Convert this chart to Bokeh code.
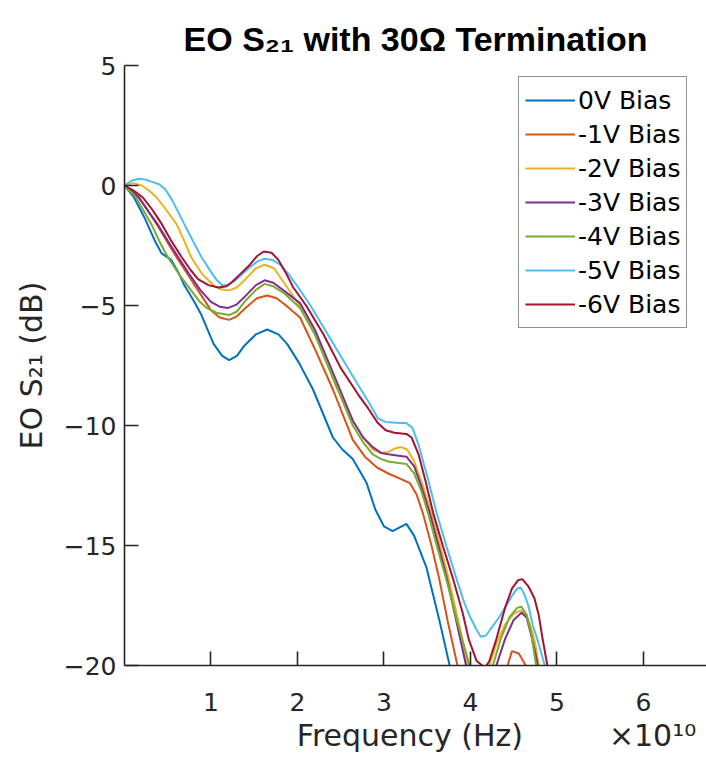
from bokeh.plotting import figure
from bokeh.models import Range1d, FixedTicker
from bokeh.embed import file_html
from bokeh.resources import INLINE

# Frequencies in GHz, EO S21 in dB, one pair of arrays per bias voltage
freq_0v = [0, 1.1, 2.3, 3.5, 4.3, 5.4, 6.2, 6.9, 8.0, 8.9, 10.3, 11.3, 12.1, 13.0, 13.8, 15.2, 16.5, 17.8,
           18.8, 20.2, 21.8, 24.1, 25.2, 26.4, 27.2, 28.0, 29.0, 30.0, 31.0, 32.6, 33.5, 34.9, 36.4, 37.6,
           39.0, 41.0]
s21_0v = [0, -0.5, -1.33, -2.3, -2.83, -3.1, -3.6, -4.15, -4.8, -5.4, -6.6, -7.1, -7.28, -7.1, -6.7, -6.2, -6.0, -6.2,
          -6.6, -7.4, -8.5, -10.5, -11.0, -11.4, -11.9, -12.4, -13.5, -14.2, -14.4, -14.1, -14.6, -15.9, -18.1, -20.0,
          -22.0, -23.5]

freq_1v = [0, 1.7, 3.7, 6.0, 7.3, 8.5, 10.0, 11.0, 12.1, 13.0, 14.0, 15.3, 16.5, 17.6, 18.5, 20.3, 22.0, 24.1,
           26.4, 27.8, 29.2, 30.5, 31.8, 33.0, 33.8, 34.5, 35.5, 36.4, 37.4, 38.5, 40.0, 42.0, 44.3, 44.8, 45.6,
           46.4, 47.5]
s21_1v = [0, -0.49, -1.6, -2.98, -3.7, -4.37, -5.2, -5.5, -5.6, -5.45, -5.1, -4.7, -4.58, -4.7, -4.95, -5.5, -6.8, -8.5,
          -10.6, -11.3, -11.75, -12.0, -12.2, -12.4, -12.9, -13.65, -15.0, -16.4, -18.2, -20.0, -21.5, -21.5, -20.0, -19.4, -19.5,
          -20.0, -21.5]

freq_2v = [0, 1.0, 2.0, 2.8, 3.7, 4.8, 6.0, 6.9, 7.7, 9.0, 10.4, 11.2, 12.1, 13.0, 14.0, 15.2, 16.2, 17.3,
           18.8, 21.0, 22.5, 24.5, 26.4, 27.6, 28.7, 29.7, 30.5, 31.3, 32.0, 32.7, 33.5, 34.5, 35.5, 36.5, 37.5,
           38.7, 39.7, 41.0, 42.2, 43.0, 44.0, 45.0, 45.8, 46.5, 47.0, 47.5, 47.9, 49.0]
s21_2v = [0, 0.1, 0.0, -0.2, -0.49, -1.0, -1.6, -2.3, -2.98, -3.7, -4.2, -4.33, -4.37, -4.25, -3.9, -3.45, -3.3, -3.45,
          -4.24, -5.4, -6.6, -8.4, -9.8, -10.5, -11.0, -11.15, -11.1, -10.95, -10.9, -11.0, -11.5, -12.5, -13.65, -15.0, -16.4,
          -18.3, -20.0, -21.2, -20.0, -19.1, -18.3, -17.85, -17.7, -17.9, -18.4, -19.1, -20.0, -21.5]

freq_3v = [0, 1.6, 3.8, 5.0, 6.2, 7.5, 8.8, 10.0, 11.0, 12.0, 13.0, 14.0, 15.2, 16.2, 17.2, 18.5, 20.3, 22.0,
           24.1, 26.4, 27.6, 28.7, 29.7, 30.5, 31.5, 32.6, 33.5, 34.3, 35.3, 36.3, 37.3, 38.4, 39.5, 41.0, 43.0,
           44.0, 45.0, 45.9, 46.5, 47.0, 47.4, 47.8, 48.8]
s21_3v = [0, -0.49, -1.6, -2.3, -2.98, -3.7, -4.37, -4.85, -5.05, -5.1, -4.95, -4.6, -4.15, -3.95, -4.05, -4.4, -4.9, -6.0,
          -7.8, -9.8, -10.5, -10.9, -11.15, -11.2, -11.25, -11.3, -11.7, -12.5, -13.65, -15.0, -16.4, -18.2, -20.0, -21.3, -20.0,
          -18.9, -18.1, -17.8, -18.0, -18.7, -19.3, -20.0, -21.5]

freq_4v = [0, 1.3, 3.1, 4.0, 5.0, 6.3, 7.7, 8.6, 9.5, 10.6, 12.1, 13.0, 14.0, 15.2, 16.2, 17.2, 18.5, 20.3,
           22.0, 24.1, 26.4, 27.6, 28.7, 29.7, 30.5, 31.5, 32.6, 33.5, 34.3, 35.1, 36.1, 37.2, 38.5, 39.9, 41.5,
           42.6, 43.5, 44.5, 45.4, 45.9, 46.5, 47.0, 47.6, 48.5]
s21_4v = [0, -0.49, -1.6, -2.3, -2.98, -3.7, -4.37, -4.8, -5.1, -5.3, -5.4, -5.25, -4.8, -4.35, -4.1, -4.2, -4.5, -5.1,
          -6.2, -8.0, -10.0, -10.7, -11.2, -11.4, -11.5, -11.55, -11.6, -12.0, -12.7, -13.65, -15.0, -16.4, -18.2, -20.0, -21.0,
          -20.0, -18.9, -18.0, -17.6, -17.55, -17.9, -18.6, -20.0, -21.5]

freq_5v = [0, 0.8, 1.6, 2.4, 3.2, 4.0, 4.7, 5.5, 6.2, 6.9, 7.9, 8.9, 10.0, 10.7, 11.3, 12.0, 13.0, 14.5,
           15.4, 16.2, 17.1, 18.0, 19.0, 20.0, 21.5, 23.0, 25.0, 27.0, 28.2, 29.3, 30.2, 31.8, 32.6, 33.3, 34.0,
           35.0, 36.1, 37.2, 38.4, 39.3, 40.0, 40.7, 41.2, 41.8, 42.5, 43.3, 44.0, 44.8, 45.4, 45.8, 46.2, 46.7,
           47.2, 47.9, 48.6, 49.5]
s21_5v = [0, 0.2, 0.28, 0.25, 0.15, 0.05, -0.15, -0.6, -1.1, -1.6, -2.3, -2.98, -3.6, -3.95, -4.16, -4.15, -3.9, -3.4,
          -3.15, -3.05, -3.1, -3.3, -3.7, -4.2, -5.0, -5.9, -7.1, -8.3, -9.0, -9.7, -9.85, -9.9, -9.9, -10.1, -10.8,
          -12.1, -13.65, -15.0, -16.4, -17.4, -18.0, -18.5, -18.8, -18.75, -18.4, -18.0, -17.6, -17.1, -16.8, -16.75, -17.0, -17.5,
          -18.3, -19.1, -20.0, -21.5]

freq_6v = [0, 1.0, 2.1, 3.2, 4.3, 5.4, 6.6, 7.6, 8.5, 9.7, 10.9, 11.8, 12.5, 13.5, 14.5, 15.3, 16.1, 17.0,
           17.8, 18.6, 19.5, 21.0, 23.0, 25.0, 27.0, 28.2, 29.3, 30.2, 31.2, 32.6, 33.2, 34.0, 34.8, 35.7, 36.8,
           38.0, 39.1, 39.8, 40.7, 41.7, 42.2, 43.0, 44.0, 44.8, 45.5, 46.0, 46.7, 47.4, 47.9, 48.4, 48.9, 49.5]
s21_6v = [0, -0.2, -0.49, -1.0, -1.6, -2.3, -2.98, -3.5, -3.9, -4.15, -4.25, -4.2, -4.0, -3.65, -3.3, -2.95, -2.75, -2.8,
          -3.1, -3.6, -4.24, -5.0, -6.2, -7.6, -8.7, -9.3, -9.9, -10.2, -10.3, -10.35, -10.5, -11.2, -12.3, -13.65, -15.0,
          -16.4, -17.8, -18.9, -19.8, -20.1, -19.8, -18.9, -17.6, -16.8, -16.45, -16.4, -16.7, -17.2, -17.9, -19.0, -20.0, -21.5]

series_names = ["0V Bias", "-1V Bias", "-2V Bias", "-3V Bias", "-4V Bias", "-5V Bias", "-6V Bias"]
series_colors = ["#0072BD", "#D95319", "#EDB120", "#7E2F8E", "#77AC30", "#4DBEEE", "#A2142F"]
series_freq = [freq_0v, freq_1v, freq_2v, freq_3v, freq_4v, freq_5v, freq_6v]
series_s21 = [s21_0v, s21_1v, s21_2v, s21_3v, s21_4v, s21_5v, s21_6v]

x_ticks = [1e10, 2e10, 3e10, 4e10, 5e10, 6e10]
x_tick_labels = ["1", "2", "3", "4", "5", "6"]
y_ticks = [-20, -15, -10, -5, 0, 5]

title_text = "EO S\u2082\u2081 with 30\u03a9 Termination"
y_label = "EO S\u2082\u2081 (dB)"
x_label = "Frequency (Hz)"
x_exponent = "\u00d710\u00b9\u2070"

FONT = "DejaVu Sans"
INK = "#262626"
NBSP = "\u00a0"

p = figure(width=706, height=766, output_backend="svg", toolbar_location=None,
           x_range=Range1d(0, 6.73e10), y_range=Range1d(-20, 5),
           min_border_left=124, min_border_right=0, min_border_top=65, min_border_bottom=101)
p.outline_line_color = None
p.grid.visible = False
p.background_fill_color = "white"
p.border_fill_color = "white"

for name, col, f, s in zip(series_names, series_colors, series_freq, series_s21):
    p.line([v * 1e9 for v in f], s, line_color=col, line_width=2, legend_label=name)

# title, centred over the axes
p.title.text = title_text
p.title.align = "center"
p.title.text_font = "Liberation Sans"
p.title.text_font_style = "bold"
p.title.text_font_size = "34px"
p.title.text_color = "black"
p.title.standoff = 16

for ax in (p.xaxis[0], p.yaxis[0]):
    ax.axis_line_color = INK
    ax.axis_line_width = 1.6
    ax.major_tick_line_color = INK
    ax.major_tick_line_width = 1.6
    ax.major_tick_in = 14
    ax.major_tick_out = 0
    ax.minor_tick_line_color = None
    ax.major_label_text_font = FONT
    ax.major_label_text_font_size = "25px"
    ax.major_label_text_color = INK
    ax.axis_label_text_font = FONT
    ax.axis_label_text_font_size = "30px"
    ax.axis_label_text_font_style = "normal"
    ax.axis_label_text_color = INK

p.xaxis.ticker = FixedTicker(ticks=x_ticks)
p.xaxis.major_label_overrides = {t: l for t, l in zip(x_ticks, x_tick_labels)}
p.xaxis.major_label_standoff = 27
# axis label with the x10^10 multiplier at the right end of the same line
p.xaxis.axis_label = NBSP * 17 + x_label + NBSP * 9 + x_exponent
p.xaxis.axis_label_standoff = 4

p.yaxis.ticker = FixedTicker(ticks=y_ticks)
p.yaxis.major_label_standoff = 8
p.yaxis.axis_label = y_label
p.yaxis.axis_label_standoff = 12

leg = p.legend[0]
leg.location = (394, 337)
leg.border_line_color = INK
leg.border_line_width = 1.5
leg.background_fill_color = "white"
leg.background_fill_alpha = 1.0
leg.label_text_font = FONT
leg.label_text_font_size = "25px"
leg.label_text_color = "black"
leg.glyph_width = 50
leg.glyph_height = 34
leg.label_height = 34
leg.label_standoff = 3
leg.spacing = 0
leg.padding = 6
leg.margin = 0

open("out.html", "w").write(file_html(p, INLINE))
